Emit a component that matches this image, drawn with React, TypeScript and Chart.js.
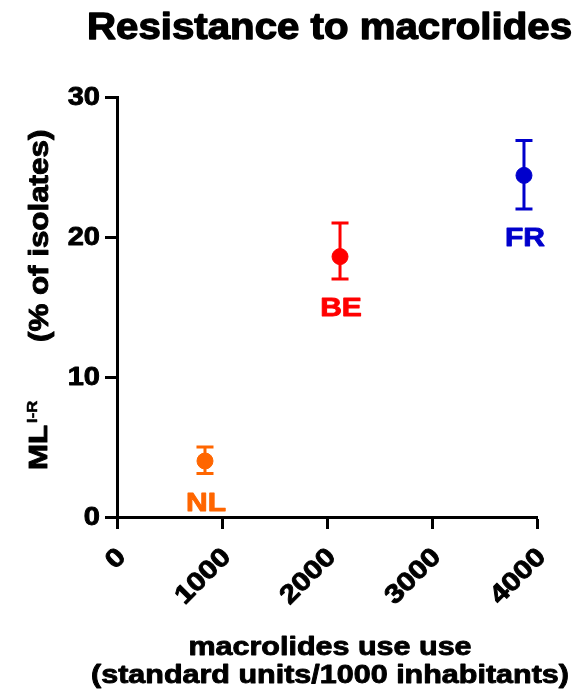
import React, { useEffect, useRef } from "react";
import { Chart, registerables } from "chart.js";

Chart.register(...registerables);

// ---- data ----
const countries = ["NL", "BE", "FR"];
const macrolideUse = [838, 2124, 3876];
const resistance = [4.0, 18.6, 24.4];
const errLow = [3.1, 17.0, 22.0];
const errHigh = [5.0, 21.0, 26.9];
const countryColors = ["#FF6600", "#FF0000", "#0000CC"];
const xTicks = [0, 1000, 2000, 3000, 4000];
const yTicks = [0, 10, 20, 30];
const titleText = "Resistance to macrolides";
const xTitleLines = ["macrolides use use", "(standard units/1000 inhabitants)"];
const yTitleMain = "ML";
const yTitleSup = "I-R";
const yTitleRest = "(% of isolates)";

const FONT = '"Liberation Sans", Arial, sans-serif';

function drawText(
  ctx: CanvasRenderingContext2D,
  s: string,
  x: number,
  y: number,
  size: number,
  o: { align?: CanvasTextAlign; baseline?: CanvasTextBaseline; rot?: number; sx?: number; color?: string } = {}
) {
  ctx.save();
  ctx.translate(x, y);
  if (o.rot) ctx.rotate(o.rot);
  ctx.scale(o.sx ?? 1, 1);
  ctx.font = `bold ${size}px ${FONT}`;
  ctx.textAlign = o.align ?? "left";
  ctx.textBaseline = o.baseline ?? "alphabetic";
  ctx.fillStyle = o.color ?? "#000";
  ctx.strokeStyle = o.color ?? "#000";
  ctx.lineWidth = size * 0.035;
  ctx.lineJoin = "round";
  ctx.fillText(s, 0, 0);
  ctx.strokeText(s, 0, 0);
  ctx.restore();
}

const errorBarPlugin = {
  id: "errorBars",
  afterDatasetsDraw(chart: any) {
    const ctx = chart.ctx as CanvasRenderingContext2D;
    const xs = chart.scales.x;
    const ys = chart.scales.y;
    ctx.save();
    ctx.lineWidth = 3;
    for (let i = 0; i < countries.length; i++) {
      const px = xs.getPixelForValue(macrolideUse[i]);
      const lo = ys.getPixelForValue(errLow[i]);
      const hi = ys.getPixelForValue(errHigh[i]);
      ctx.strokeStyle = countryColors[i];
      ctx.beginPath();
      ctx.moveTo(px, lo);
      ctx.lineTo(px, hi);
      ctx.moveTo(px - 8.5, lo);
      ctx.lineTo(px + 8.5, lo);
      ctx.moveTo(px - 8.5, hi);
      ctx.lineTo(px + 8.5, hi);
      ctx.stroke();
      // country label under the error bar
      drawText(ctx, countries[i], px + 1, lo + 37, 25, { align: "center", sx: 1.2, color: countryColors[i] });
    }
    ctx.restore();
  },
};

const textPlugin = {
  id: "texts",
  afterDraw(chart: any) {
    const ctx = chart.ctx as CanvasRenderingContext2D;
    const xs = chart.scales.x;
    const ys = chart.scales.y;
    // title
    drawText(ctx, titleText, 329.5, 39, 36, { align: "center", sx: 1.117 });
    // y tick labels
    yTicks.forEach((v) => {
      drawText(ctx, String(v), 100, ys.getPixelForValue(v) + 1, 25, { align: "right", baseline: "middle", sx: 1.16 });
    });
    // x tick labels rotated
    xTicks.forEach((v) => {
      drawText(ctx, String(v), xs.getPixelForValue(v) + 5, 553, 26, {
        align: "right",
        baseline: "middle",
        rot: -Math.PI / 4,
        sx: 1.16,
      });
    });
    // x title
    drawText(ctx, xTitleLines[0], 330, 655, 25, { align: "center", sx: 1.22 });
    drawText(ctx, xTitleLines[1], 330, 683, 25, { align: "center", sx: 1.22 });
    // y title (rotated)
    const r = -Math.PI / 2;
    drawText(ctx, yTitleMain, 47, 470, 26, { rot: r, sx: 1.2 });
    drawText(ctx, yTitleSup, 37, 423, 14, { rot: r, sx: 1.2 });
    drawText(ctx, yTitleRest, 48, 342, 27, { rot: r, sx: 1.16 });
  },
};

export default function App() {
  const ref = useRef<HTMLCanvasElement>(null);
  useEffect(() => {
    if (!ref.current) return;
    const axisCommon = {
      grid: {
        drawOnChartArea: false,
        drawTicks: true,
        tickLength: 12,
        tickWidth: 3,
        tickColor: "#000",
      },
      border: { display: true, width: 3, color: "#000" },
    };
    const chart = new Chart(ref.current, {
      type: "scatter",
      data: {
        datasets: [
          {
            data: macrolideUse.map((x, i) => ({ x, y: resistance[i] })),
            backgroundColor: countryColors,
            borderColor: countryColors,
            pointRadius: 8,
            pointBorderWidth: 1,
            pointHoverRadius: 8,
          },
        ],
      },
      options: {
        animation: false,
        responsive: false,
        events: [],
        layout: { padding: { top: 97, right: 38, left: 0, bottom: 0 } },
        plugins: { legend: { display: false }, tooltip: { enabled: false }, title: { display: false } },
        scales: {
          x: {
            type: "linear",
            min: 0,
            max: 4000,
            ...axisCommon,
            ticks: { display: false, stepSize: 1000 },
            afterFit: (s: any) => {
              s.height = 177;
            },
          },
          y: {
            type: "linear",
            min: 0,
            max: 30,
            ...axisCommon,
            ticks: { display: false, stepSize: 10 },
            afterFit: (s: any) => {
              s.width = 117;
            },
          },
        },
      } as any,
      plugins: [errorBarPlugin, textPlugin],
    });
    return () => chart.destroy();
  }, []);
  return (
    <div style={{ position: "absolute", left: 0, top: 0, width: 575, height: 694, background: "#fff" }}>
      <canvas ref={ref} width={575} height={694} />
    </div>
  );
}
